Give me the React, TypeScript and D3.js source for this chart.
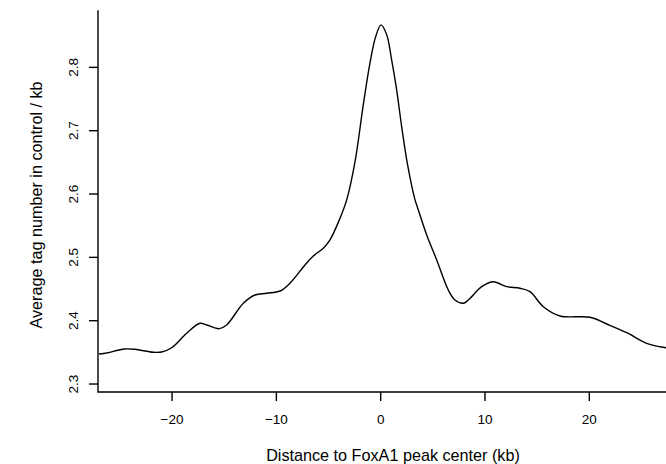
import React from "react";
import * as d3 from "d3";

const distanceKb = [
  -27.01, -26.44, -24.52, -23.56, -21.8, -21.0, -20.04, -18.6, -17.33, -16.68,
  -15.47, -14.77, -13.17, -12.05, -10.93, -9.65, -8.7, -7.26, -6.46, -5.5,
  -4.86, -3.9, -3.26, -2.46, -1.67, -1.03, -0.5, 0.03, 0.58, 1.05,
  1.53, 2.01, 2.55, 3.29, 3.45, 4.41, 5.37, 6.48, 7.12, 7.92,
  8.4, 9.68, 10.8, 12.08, 13.36, 14.31, 15.59, 17.19, 20.07, 21.67,
  23.59, 25.5, 27.09, 29.4,
];
const avgTags = [
  2.3474, 2.3485, 2.3553, 2.3548, 2.3501, 2.3506, 2.3573, 2.3801, 2.3959, 2.3932,
  2.3874, 2.3932, 2.4275, 2.4406, 2.4433, 2.4469, 2.4591, 2.488, 2.5022, 2.5144,
  2.5275, 2.5618, 2.5907, 2.6512, 2.7408, 2.8066, 2.8474, 2.8671, 2.8513, 2.8118,
  2.7645, 2.7065, 2.6487, 2.5907, 2.5828, 2.5354, 2.4959, 2.4485, 2.4327, 2.4275,
  2.4327, 2.4537, 2.4616, 2.4537, 2.4512, 2.4458, 2.4221, 2.4074, 2.4054, 2.3948,
  2.381, 2.3643, 2.358, 2.354,
];
const xTicks = [-20, -10, 0, 10, 20];
const yTicks = [2.3, 2.4, 2.5, 2.6, 2.7, 2.8];
const xTitle = "Distance to FoxA1 peak center (kb)";
const yTitle = "Average tag number in control / kb";

export default function App() {
  const W = 666;
  const H = 464;
  const left = 98;
  const right = 688;
  const top = 11;
  const bottom = 392;

  const x = d3.scaleLinear().domain([-27.1, 29.46]).range([left, right]);
  const y = d3.scaleLinear().domain([2.2874, 2.889]).range([bottom, top]);

  const pts = distanceKb.map((d, i) => [d, avgTags[i]] as [number, number]);
  const line = d3
    .line<[number, number]>()
    .x((d) => x(d[0]))
    .y((d) => y(d[1]))
    .curve(d3.curveCatmullRom.alpha(0.5));

  const font = "'Liberation Sans', Arial, Helvetica, sans-serif";
  const tickLen = 9;
  const tickFs = 13.5;
  const titleFs = 16.2;

  return (
    <svg
      width={W}
      height={H}
      viewBox={`0 0 ${W} ${H}`}
      style={{ position: "absolute", left: 0, top: 0, background: "#fff" }}
      fontFamily={font}
    >
      <defs>
        <clipPath id="plotclip">
          <rect x={left} y={top} width={right - left} height={bottom - top} />
        </clipPath>
      </defs>
      <path
        d={line(pts) || ""}
        fill="none"
        stroke="#000"
        strokeWidth={1.4}
        strokeLinejoin="miter"
        clipPath="url(#plotclip)"
      />
      <path
        d={`M${left},${top}V${bottom}H${right}`}
        fill="none"
        stroke="#000"
        strokeWidth={1.4}
        strokeLinecap="square"
      />
      {xTicks.map((t) => (
        <g key={`x${t}`}>
          <line x1={x(t)} x2={x(t)} y1={bottom} y2={bottom + tickLen} stroke="#000" strokeWidth={1.4} />
          <text x={x(t)} y={424} fontSize={tickFs} textAnchor="middle" fill="#000">
            {t < 0 ? `\u2212${Math.abs(t)}` : `${t}`}
          </text>
        </g>
      ))}
      {yTicks.map((t) => (
        <g key={`y${t}`}>
          <line x1={left - tickLen} x2={left} y1={y(t)} y2={y(t)} stroke="#000" strokeWidth={1.4} />
          <text
            transform={`translate(78.3,${y(t)}) rotate(-90)`}
            fontSize={tickFs}
            textAnchor="middle"
            fill="#000"
          >
            {t.toFixed(1)}
          </text>
        </g>
      ))}
      <text x={(left + right) / 2} y={461} fontSize={titleFs} textAnchor="middle" fill="#000">
        {xTitle}
      </text>
      <text
        transform={`translate(42.3,205) rotate(-90)`}
        fontSize={titleFs}
        textAnchor="middle"
        fill="#000"
      >
        {yTitle}
      </text>
    </svg>
  );
}
